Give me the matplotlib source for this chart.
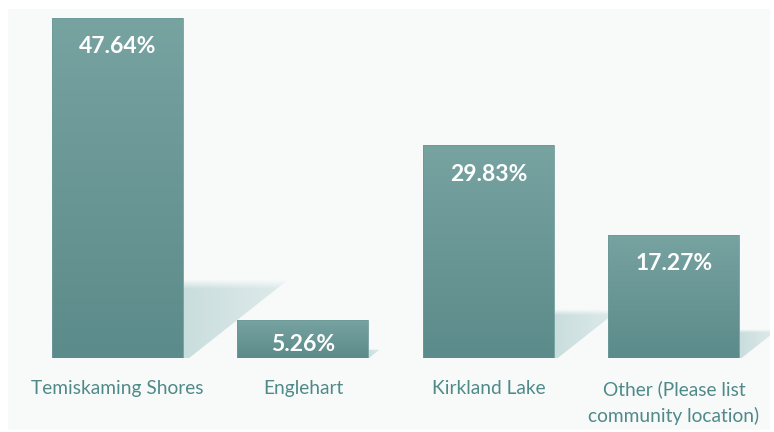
import matplotlib
matplotlib.use("Agg")
import matplotlib.pyplot as plt
from matplotlib.patches import Rectangle, Polygon
import numpy as np

# survey results
categories = ["Temiskaming Shores", "Englehart", "Kirkland Lake",
              "Other (Please list\ncommunity location)"]
values = [47.64, 5.26, 29.83, 17.27]
labels = ["47.64%", "5.26%", "29.83%", "17.27%"]

W, H = 774, 432
fig = plt.figure(figsize=(W / 100, H / 100), dpi=100)
fig.patch.set_facecolor("white")

# light panel behind the chart
fig.patches.append(Rectangle((8 / W, 2 / H), 762 / W, 421 / H,
                             transform=fig.transFigure, facecolor="#f8fafa",
                             edgecolor="none", zorder=-10))

# axes: y=0 at pixel 358 from top, top at pixel 9
ax = fig.add_axes([8 / W, (H - 358) / H, 762 / W, (358 - 9) / H])
ax.patch.set_alpha(0)
x = np.arange(len(values))
for s in ax.spines.values():
    s.set_visible(False)
ax.set_yticks([])
ax.set_xticks(x)
ax.set_xticklabels(categories, fontsize=13.8, color="#4f8a89", family="Lato",
                   linespacing=1.6, va="top")
ax.tick_params(axis="x", length=0, pad=16)

width = 0.706
top_c = np.array([119, 163, 161]) / 255
bot_c = np.array([91, 139, 138]) / 255
grad = np.linspace(0, 1, 256)[:, None]
bar_img = top_c[None, None, :] * (1 - grad[..., None]) + bot_c[None, None, :] * grad[..., None]
bar_img = np.repeat(bar_img, 2, axis=1)

shade = np.array([0.76, 0.85, 0.85])

for i, v in enumerate(values):
    # floor shadow cast to the right
    xr = x[i] + width / 2
    sh = 0.23 * v
    dx = 0.0119 * v
    poly = Polygon([(xr, 0), (xr, sh), (xr + dx, sh), (xr + 0.06 * dx, 0)],
                   closed=True, facecolor="none", edgecolor="none")
    ax.add_patch(poly)
    hx = np.linspace(0, 1, 200)[None, :]
    vy = np.linspace(0, 1, 100)[:, None]
    alpha = (0.85 - 0.4 * hx) * np.clip((1 - vy) / 0.12, 0, 1)
    img = np.zeros((100, 200, 4))
    img[..., :3] = shade
    img[..., 3] = alpha
    im = ax.imshow(img, extent=(xr, xr + dx, 0, sh), aspect="auto",
                   origin="lower", zorder=1, interpolation="bilinear")
    im.set_clip_path(poly)

    # bar with vertical gradient
    bar = ax.bar(x[i], v, width=width, color="none", edgecolor="none", zorder=2)[0]
    bim = ax.imshow(bar_img, extent=(x[i] - width / 2, x[i] + width / 2, 0, v),
                    aspect="auto", zorder=2, interpolation="bilinear")
    bim.set_clip_path(bar)
    ax.add_patch(Rectangle((x[i] - width / 2, 0), width, v, facecolor="none",
                           edgecolor="#6b9a99", linewidth=0.6, zorder=3))

    ty = v - min(4.06, 0.64 * v)
    ax.text(x[i], ty, labels[i], ha="center", va="center", color="white",
            fontsize=16.5, fontweight="bold", family="Lato", zorder=4)

ax.set_xlim(-0.590, 3.518)
ax.set_ylim(0, 48.90)

fig.savefig("out.png", dpi=100, facecolor="white")
